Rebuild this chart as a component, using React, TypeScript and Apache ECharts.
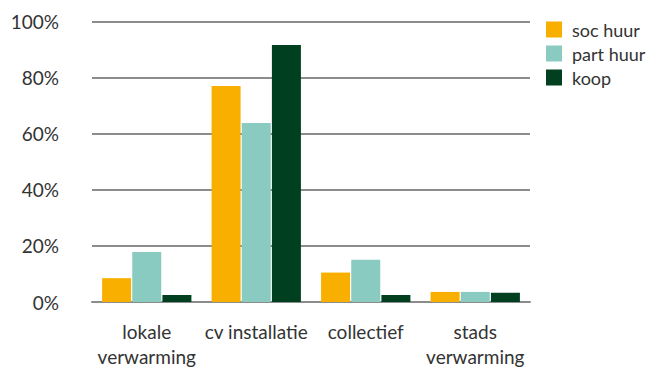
import React, { useEffect, useRef } from "react";
import * as echarts from "echarts";

const categories = ["lokale\nverwarming", "cv installatie", "collectief", "stads\nverwarming"];
const socHuur = [8.5, 77.1, 10.5, 3.6];
const partHuur = [17.8, 63.9, 15.1, 3.6];
const koop = [2.5, 91.7, 2.5, 3.3];
const seriesNames = ["soc huur", "part huur", "koop"];
const colors = ["#F8AF00", "#89CBC0", "#003F1F"];
const yTicks = [0, 20, 40, 60, 80, 100];

const FONT = "Lato";

export default function App() {
  const ref = useRef<HTMLDivElement>(null);
  useEffect(() => {
    if (!ref.current) return;
    const chart = echarts.init(ref.current, undefined, { renderer: "svg" });
    const data = [socHuur, partHuur, koop];
    chart.setOption({
      animation: false,
      textStyle: { fontFamily: FONT },
      grid: { left: 92, right: 117, top: 21.7, bottom: 60.7, containLabel: false },
      legend: {
        orient: "vertical",
        left: 541,
        top: 15.5,
        itemWidth: 16,
        itemHeight: 16,
        itemGap: 6,
        icon: "rect",
        textStyle: { fontFamily: FONT, fontSize: 18, color: "#333", padding: [0, 0, 0, 5] },
        data: seriesNames,
      },
      xAxis: {
        type: "category",
        data: categories,
        axisLine: { show: true, lineStyle: { color: "#8c8c8c", width: 2 } },
        axisTick: { show: false },
        axisLabel: {
          margin: 17,
          fontFamily: FONT,
          fontSize: 19,
          lineHeight: 25,
          color: "#333",
          interval: 0,
        },
      },
      yAxis: {
        type: "value",
        min: yTicks[0],
        max: yTicks[yTicks.length - 1],
        interval: 20,
        axisLine: { show: false },
        axisTick: { show: false },
        axisLabel: {
          margin: 33,
          fontFamily: FONT,
          fontSize: 19,
          color: "#333",
          formatter: (v: number) => v + "%",
        },
        splitLine: { show: true, lineStyle: { color: "#8c8c8c", width: 2 } },
      },
      series: seriesNames.map((name, i) => ({
        name,
        type: "bar",
        data: data[i],
        barWidth: 29,
        barGap: "4%",
        itemStyle: { color: colors[i] },
      })),
    });
    return () => chart.dispose();
  }, []);
  return (
    <div
      ref={ref}
      style={{ position: "absolute", left: 0, top: 0, width: 647, height: 369 }}
    />
  );
}
